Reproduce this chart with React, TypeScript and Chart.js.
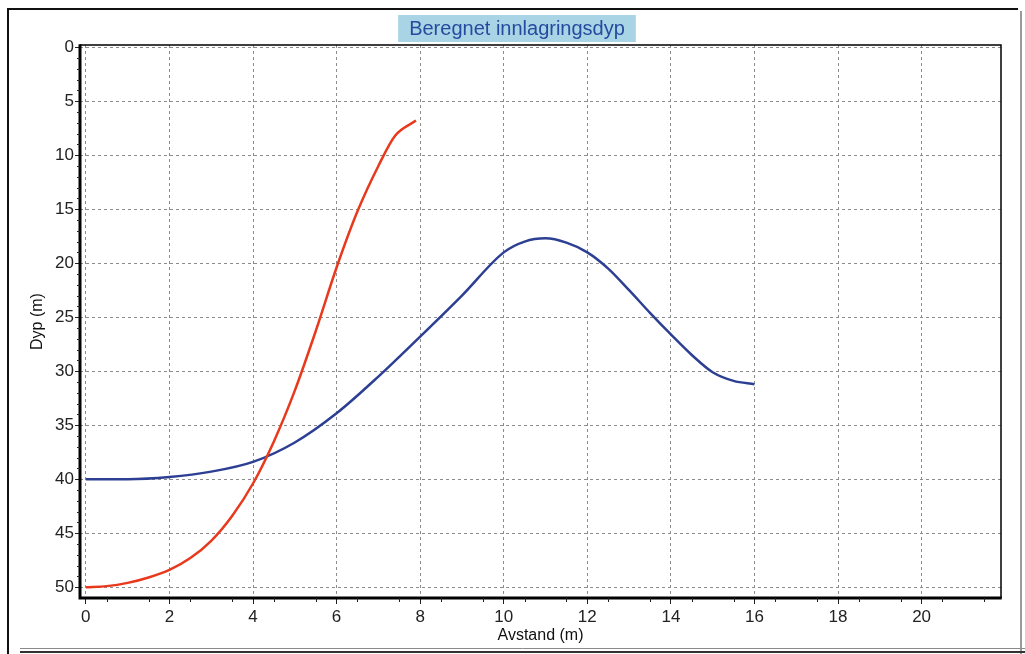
import React, { useEffect, useRef } from "react";
import { Chart, registerables } from "chart.js";

Chart.register(...registerables);

const titleText = "Beregnet innlagringsdyp";
const xTitle = "Avstand (m)";
const yTitle = "Dyp (m)";

const xTicks = [0, 2, 4, 6, 8, 10, 12, 14, 16, 18, 20];
const yTicks = [0, 5, 10, 15, 20, 25, 30, 35, 40, 45, 50];

const redX = [0, 0.5, 1, 1.5, 2, 2.5, 3, 3.5, 4, 4.5, 5, 5.5, 6, 6.5, 7, 7.4, 7.9];
const redY = [50, 49.9, 49.6, 49.1, 48.4, 47.3, 45.7, 43.4, 40.4, 36.5, 31.8, 26.3, 20.4, 15.2, 11, 8.2, 6.8];

const blueX = [0, 1, 2, 3, 4, 5, 6, 7, 8, 9, 10, 10.5, 11, 11.5, 12, 12.5, 13, 13.5, 14, 14.5, 15, 15.5, 16];
const blueY = [40, 40, 39.8, 39.3, 38.4, 36.6, 33.9, 30.5, 26.8, 23, 19, 18, 17.7, 18.1, 19, 20.5, 22.5, 24.6, 26.6, 28.5, 30.1, 30.9, 31.2];

const FONT = "'Liberation Sans', Arial, sans-serif";

const decorPlugin = {
  id: "decor",
  afterDraw(chart: any) {
    const { ctx, chartArea } = chart;
    const { left, right, top, bottom } = chartArea;
    const xs = chart.scales.x;
    const ys = chart.scales.y;
    ctx.save();

    // outer frame
    ctx.strokeStyle = "#111";
    ctx.lineWidth = 2;
    ctx.beginPath();
    ctx.moveTo(8, 654);
    ctx.lineTo(8, 9);
    ctx.lineTo(1018, 9);
    ctx.stroke();
    ctx.strokeStyle = "#9a9a9a";
    ctx.lineWidth = 2;
    ctx.beginPath();
    ctx.moveTo(1021, 11);
    ctx.lineTo(1021, 654);
    ctx.stroke();
    ctx.strokeStyle = "#8a8a8a";
    ctx.lineWidth = 1;
    ctx.beginPath();
    ctx.moveTo(20, 648.5);
    ctx.lineTo(1025, 648.5);
    ctx.stroke();
    ctx.strokeStyle = "#333";
    ctx.lineWidth = 2;
    ctx.beginPath();
    ctx.moveTo(20, 652);
    ctx.lineTo(1025, 652);
    ctx.stroke();

    // plot border
    ctx.strokeStyle = "#000";
    ctx.lineWidth = 1.5;
    ctx.beginPath();
    ctx.moveTo(left, top);
    ctx.lineTo(right, top);
    ctx.lineTo(right, bottom);
    ctx.stroke();
    ctx.lineWidth = 3;
    ctx.beginPath();
    ctx.moveTo(left, top - 0.75);
    ctx.lineTo(left, bottom);
    ctx.lineTo(right + 0.75, bottom);
    ctx.stroke();

    // minor ticks
    ctx.lineWidth = 1;
    ctx.strokeStyle = "#222";
    ctx.beginPath();
    for (let v = 0.5; v < 22; v += 1) {
      const px = Math.round(xs.getPixelForValue(v)) + 0.5;
      if (px > right) break;
      ctx.moveTo(px, bottom);
      ctx.lineTo(px, bottom + 4);
    }
    for (let v = 1; v <= 51; v += 1) {
      if (v % 5 === 0) continue;
      const py = Math.round(ys.getPixelForValue(v)) + 0.5;
      if (py > bottom) break;
      ctx.moveTo(left, py);
      ctx.lineTo(left - 3, py);
    }
    ctx.stroke();

    // title box
    ctx.font = `20px ${FONT}`;
    const tw = ctx.measureText(titleText).width;
    const cx = 517;
    ctx.fillStyle = "#a9d4e6";
    ctx.fillRect(cx - tw / 2 - 11, 15, tw + 22, 27);
    ctx.fillStyle = "#264a9e";
    ctx.textAlign = "center";
    ctx.textBaseline = "middle";
    ctx.fillText(titleText, cx, 29);

    // axis titles
    ctx.fillStyle = "#111";
    ctx.font = `16px ${FONT}`;
    ctx.fillText(xTitle, (left + right) / 2, 636);
    ctx.translate(38, (top + bottom) / 2);
    ctx.rotate(-Math.PI / 2);
    ctx.fillText(yTitle, 0, 0);
    ctx.restore();
  },
};

export default function App() {
  const ref = useRef<HTMLCanvasElement>(null);
  useEffect(() => {
    document.body.style.margin = "0";
    const canvas = ref.current!;
    const chart = new Chart(canvas, {
      type: "line",
      data: {
        datasets: [
          {
            data: redX.map((x, i) => ({ x, y: redY[i] })),
            borderColor: "#e8391c",
            borderWidth: 2.5,
            pointRadius: 0,
            cubicInterpolationMode: "monotone",
            fill: false,
          },
          {
            data: blueX.map((x, i) => ({ x, y: blueY[i] })),
            borderColor: "#2c3f93",
            borderWidth: 2.5,
            pointRadius: 0,
            cubicInterpolationMode: "monotone",
            fill: false,
          },
        ],
      },
      options: {
        responsive: false,
        animation: false,
        layout: { padding: { top: 45, right: 24, left: 0, bottom: 0 } },
        plugins: {
          legend: { display: false },
          title: { display: false },
          tooltip: { enabled: false },
        },
        scales: {
          x: {
            type: "linear",
            min: -0.14,
            max: 21.9,
            afterBuildTicks: (s: any) => {
              s.ticks = xTicks.map((v) => ({ value: v }));
            },
            afterFit: (s: any) => {
              s.height = 56;
            },
            grid: {
              color: "#8c8c8c",
              lineWidth: 1,
              tickLength: 6,
              tickColor: "#222",
            },
            border: { display: false, dash: [3, 3] },
            ticks: {
              color: "#222",
              font: { family: FONT, size: 17 },
              padding: 3,
              maxRotation: 0,
              autoSkip: false,
            },
          },
          y: {
            type: "linear",
            reverse: true,
            min: -0.2,
            max: 51,
            afterBuildTicks: (s: any) => {
              s.ticks = yTicks.map((v) => ({ value: v }));
            },
            afterFit: (s: any) => {
              s.width = 80;
            },
            grid: {
              color: "#8c8c8c",
              lineWidth: 1,
              tickLength: 5,
              tickColor: "#222",
            },
            border: { display: false, dash: [3, 3] },
            ticks: {
              color: "#222",
              font: { family: FONT, size: 17 },
              padding: 1,
              autoSkip: false,
            },
          },
        },
      },
      plugins: [decorPlugin],
    });
    return () => chart.destroy();
  }, []);
  return (
    <div style={{ position: "fixed", left: 0, top: 0, width: 1025, height: 654, background: "#fff" }}>
      <canvas ref={ref} width={1025} height={654} style={{ display: "block" }} />
    </div>
  );
}
